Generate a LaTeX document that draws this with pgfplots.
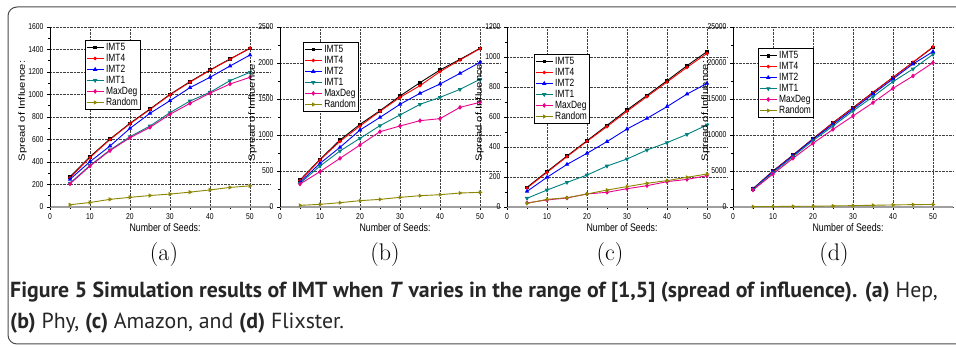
\documentclass[border=0pt]{standalone}
\usepackage{fontspec}
\usepackage{pgfplots}
\usepackage{pgfplotstable}
\pgfplotsset{compat=1.18}
\newfontfamily\pf[FakeStretch=0.8]{Liberation Sans}
\newfontfamily\pfn{Liberation Sans}
\newfontfamily\capfont{PT Sans}

\pgfplotstableread{
x IMTv IMTiv IMTii IMTi MaxDeg Random
5  268 260 246 212 206 20
10 447 440 403 370 364 40
15 604 600 542 507 501 68
20 744 740 699 625 616 86
25 871 867 833 720 708 102
30 1001 997 945 839 824 115
35 1114 1110 1061 942 921 132
40 1218 1215 1153 1020 1012 152
45 1316 1313 1253 1123 1093 174
50 1410 1412 1351 1197 1153 188
}\dataA
\pgfplotstableread{
x IMTv IMTiv IMTii IMTi MaxDeg Random
5  375 366 343 329 319 23
10 662 653 606 569 491 37
15 931 912 829 778 676 60
20 1148 1125 1069 954 861 88
25 1338 1329 1245 1130 1046 106
30 1542 1523 1426 1278 1125 134
35 1727 1685 1579 1426 1199 157
40 1903 1880 1708 1523 1227 171
45 2051 2042 1856 1634 1384 194
50 2204 2199 2009 1773 1454 204
}\dataB
\pgfplotstableread{
x IMTv IMTiv IMTii IMTi MaxDeg Random
5  131 127 104 58 27 24
10 236 231 198 113 47 51
15 340 336 284 164 60 62
20 442 438 358 213 87 87
25 544 536 436 273 98 113
30 647 638 520 320 122 136
35 744 736 591 380 142 158
40 842 833 669 429 169 176
45 942 931 753 484 184 198
50 1036 1024 824 547 209 220
}\dataC
\pgfplotstableread{
x IMTv IMTiv IMTii IMTi MaxDeg Random
5  2546 2520 2500 2454 2361 50
10 5000 4980 4908 4769 4584 70
15 7222 7200 7130 6991 6760 90
20 9491 9450 9399 9214 8843 110
25 11713 11680 11482 11251 10788 150
30 13797 13750 13566 13334 12640 190
35 15927 15900 15696 15325 14492 240
40 18010 18000 17779 17409 16483 290
45 20094 20100 19863 19168 18196 330
50 22178 22250 21576 21205 20048 350
}\dataD

\pgfplotsset{
  panel/.style 2 args={
    scale only axis, width=220pt, height=180pt,
    xmin=0, xmax=55, ymin=0,
    anchor=south west,
    axis lines*=left,
    axis line style={-},
    x axis line style={gray!75, line width=1.3pt},
    y axis line style={black, line width=0.8pt},
    xtick={0,10,...,50}, minor x tick num=1, minor y tick num=1,
    tick align=outside, tick pos=left,
    major tick length=3pt, minor tick length=1.6pt,
    tick style={black, line width=0.6pt},
    ymajorgrids, xmajorgrids,
    major grid style={black!75, densely dotted, line width=0.6pt},
    ticklabel style={font=\pf\fontsize{8.5}{9}\selectfont},
    /pgf/number format/assume math mode=true,
    /pgf/number format/set thousands separator={},
    scaled y ticks=false,
    xlabel={Number of Seeds:},
    xlabel style={font=\pf\fontsize{11}{12}\selectfont, at={(axis description cs:0.523,0)}, anchor=center, yshift=-21pt},
    ylabel={\scalebox{1.25}[1]{Spread of Influence:}},
    ylabel style={font=\pfn\fontsize{9}{10}\selectfont, at={(axis description cs:-0.125,0.533)}, anchor=center},
    legend style={at={(axis description cs:#1,#2)}, anchor=north west,
      font=\pf\fontsize{10.5}{11}\selectfont, draw=black, line width=0.9pt,
      fill=white, inner sep=0.8pt, row sep=-1.8pt, cells={anchor=west}},
    legend image code/.code={\draw[mark repeat=2,mark phase=2,##1] plot coordinates {(0pt,0pt) (8.5pt,0pt) (17pt,0pt)};},
  },
  s5/.style={black, line width=0.9pt, mark=square*, mark size=1.3pt},
  s4/.style={red, line width=0.9pt, mark=*, mark size=1.3pt},
  s2/.style={blue, line width=0.9pt, mark=triangle*, mark size=1.7pt},
  s1/.style={teal, line width=0.9pt, mark=triangle*, mark options={rotate=180}, mark size=1.7pt},
  sm/.style={magenta, line width=0.9pt, mark=diamond*, mark size=1.7pt},
  sr/.style={olive, line width=0.9pt, mark=triangle*, mark options={rotate=-90}, mark size=1.6pt},
}

\newcommand\series[1]{%
  \addplot[s5] table[x=x,y=IMTv] {#1}; \addlegendentry{IMT5}
  \addplot[s4] table[x=x,y=IMTiv] {#1}; \addlegendentry{IMT4}
  \addplot[s2] table[x=x,y=IMTii] {#1}; \addlegendentry{IMT2}
  \addplot[s1] table[x=x,y=IMTi] {#1}; \addlegendentry{IMT1}
  \addplot[sm] table[x=x,y=MaxDeg] {#1}; \addlegendentry{MaxDeg}
  \addplot[sr] table[x=x,y=Random] {#1}; \addlegendentry{Random}
}

\begin{document}
\begin{tikzpicture}
\useasboundingbox (0pt,0pt) rectangle (956pt,-347pt);
\fill[white] (0pt,0pt) rectangle (956pt,-347pt);
\draw[black!70, line width=1pt, rounded corners=9pt] (985pt,-7pt) -- (8pt,-7pt) -- (8pt,-344pt) -- (985pt,-344pt);

\begin{axis}[panel={0.159}{0.928}, at={(50pt,-207pt)}, ymax=1600, ytick={0,200,...,1600}]
\series{\dataA}
\end{axis}
\begin{axis}[panel={0.105}{0.917}, at={(280pt,-207pt)}, ymax=2500, ytick={0,500,...,2500}]
\series{\dataB}
\end{axis}
\begin{axis}[panel={0.123}{0.85}, at={(507pt,-207pt)}, ymax=1200, ytick={0,200,...,1200}]
\series{\dataC}
\end{axis}
\begin{axis}[panel={0.114}{0.883}, at={(733pt,-207pt)}, ymax=25000, ytick={0,5000,...,25000}]
\series{\dataD}
\end{axis}

\node[font=\fontsize{24}{26}\selectfont] at (164pt,-255pt) {(a)};
\node[font=\fontsize{24}{26}\selectfont] at (385pt,-255pt) {(b)};
\node[font=\fontsize{24}{26}\selectfont] at (610pt,-255pt) {(c)};
\node[font=\fontsize{24}{26}\selectfont] at (834pt,-255pt) {(d)};

\node[anchor=base west, inner sep=0pt, text=black!85, font=\capfont\fontsize{21.8}{24}\selectfont] at (10pt,-298pt)
  {\textbf{Figure 5 Simulation results of IMT when \textit{T} varies in the range of [1,5] (spread of influence). (a)} Hep,};
\node[anchor=base west, inner sep=0pt, text=black!85, font=\capfont\fontsize{21.8}{24}\selectfont] at (10pt,-329pt)
  {\textbf{(b)} Phy, \textbf{(c)} Amazon, and \textbf{(d)} Flixster.};
\end{tikzpicture}
\end{document}
